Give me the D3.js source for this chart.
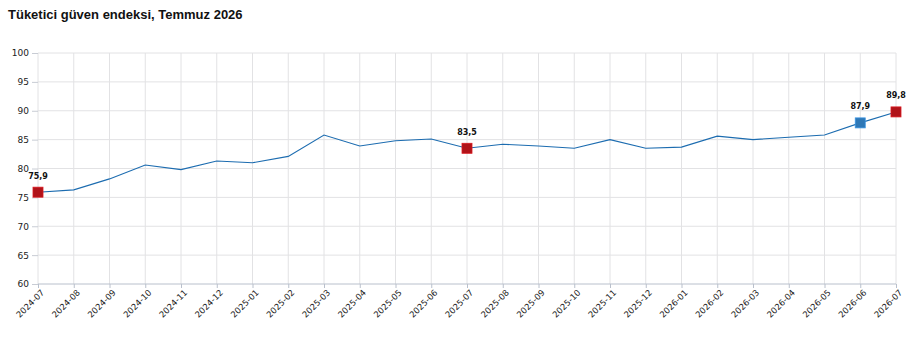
<!DOCTYPE html>
<html>
<head>
<meta charset="utf-8">
<script src="https://cdn.jsdelivr.net/npm/d3@7"></script>
<style>
body { margin: 0; background: #fff; font-family: "Liberation Sans", Arial, sans-serif; }
.grid line { stroke: #e2e2e4; }
</style>
</head>
<body>
<script>
var w = 909, h = 343;

var months = ['2024-07','2024-08','2024-09','2024-10','2024-11','2024-12',
  '2025-01','2025-02','2025-03','2025-04','2025-05','2025-06','2025-07',
  '2025-08','2025-09','2025-10','2025-11','2025-12','2026-01','2026-02',
  '2026-03','2026-04','2026-05','2026-06','2026-07'];
var values = [75.9, 76.3, 78.2, 80.6, 79.8, 81.3, 81.0, 82.1, 85.8, 83.9,
  84.8, 85.1, 83.5, 84.2, 83.9, 83.5, 85.0, 83.5, 83.7, 85.6, 85.0, 85.4,
  85.8, 87.9, 89.8];
var yTicks = [60, 65, 70, 75, 80, 85, 90, 95, 100];
// highlighted points: index and colour
var marks = [
  {i: 0, color: '#b01319'},
  {i: 12, color: '#b01319'},
  {i: 23, color: '#2e78b7'},
  {i: 24, color: '#b01319'}
];

var svg = d3.select('body').append('svg')
  .attr('width', w)
  .attr('height', h);

svg.append('text')
  .attr('x', 8)
  .attr('y', 19)
  .attr('font-size', 13)
  .attr('font-weight', 'bold')
  .attr('fill', '#111')
  .text('Tüketici güven endeksi, Temmuz 2026');

var pL = 38, pR = 896, pT = 53, pB = 284;

var x = d3.scalePoint().domain(months).range([pL, pR]);
var y = d3.scaleLinear().domain([60, 100]).range([pB, pT]);

// grid
svg.append('g').attr('class', 'grid')
  .selectAll('line').data(months).enter().append('line')
  .attr('x1', function(d) { return x(d); })
  .attr('x2', function(d) { return x(d); })
  .attr('y1', pT).attr('y2', pB);

svg.append('g').attr('class', 'grid')
  .selectAll('line').data(yTicks.slice(1)).enter().append('line')
  .attr('x1', pL).attr('x2', pR)
  .attr('y1', function(d) { return y(d); })
  .attr('y2', function(d) { return y(d); });

// y axis
var yAxis = svg.append('g')
  .attr('transform', 'translate(' + pL + ',0)')
  .call(d3.axisLeft(y).tickValues(yTicks).tickSize(6).tickPadding(3));
yAxis.select('.domain').remove();
yAxis.selectAll('line').attr('stroke', '#c8ccd4');
yAxis.selectAll('text').attr('font-size', 9).attr('font-family', 'DejaVu Sans, sans-serif').attr('fill', '#222');

// x axis
var xAxis = svg.append('g')
  .attr('transform', 'translate(0,' + pB + ')')
  .call(d3.axisBottom(x).tickSize(4).tickPadding(3));
xAxis.select('.domain').attr('stroke', '#b9c0cc').attr('d', 'M' + pL + ',0H' + pR);
xAxis.selectAll('line').attr('stroke', '#b9c0cc');
xAxis.selectAll('text')
  .attr('font-size', 8.5)
  .attr('font-family', 'DejaVu Sans, sans-serif')
  .attr('fill', '#222')
  .attr('text-anchor', 'end')
  .attr('dx', '-2')
  .attr('dy', '4')
  .attr('transform', 'rotate(-45)');

// line
var line = d3.line()
  .x(function(d, i) { return x(months[i]); })
  .y(function(d) { return y(d); });

svg.append('path')
  .datum(values)
  .attr('fill', 'none')
  .attr('stroke', '#1c6cb0')
  .attr('stroke-width', 1.1)
  .attr('d', line);

// markers
var s = 10;
svg.selectAll('rect.mark').data(marks).enter().append('rect')
  .attr('x', function(d) { return x(months[d.i]) - s / 2; })
  .attr('y', function(d) { return y(values[d.i]) - s / 2; })
  .attr('width', s).attr('height', s)
  .attr('fill', function(d) { return d.color; })
  .attr('stroke', function(d) { return d3.color(d.color).brighter(0.6); })
  .attr('stroke-width', 0.8);

svg.selectAll('text.lab').data(marks).enter().append('text')
  .attr('x', function(d) { return x(months[d.i]); })
  .attr('y', function(d) { return y(values[d.i]) - 13.5; })
  .attr('text-anchor', 'middle')
  .attr('font-size', 8)
  .attr('font-weight', 'bold')
  .attr('font-family', 'DejaVu Sans, sans-serif')
  .attr('fill', '#111')
  .text(function(d) { return values[d.i].toFixed(1).replace('.', ','); });
</script>
</body>
</html>
